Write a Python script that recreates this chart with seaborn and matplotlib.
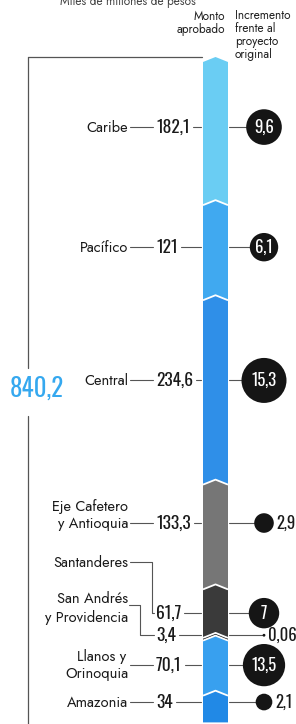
import numpy as np
import pandas as pd
import matplotlib
matplotlib.use("Agg")
import matplotlib.pyplot as plt
import seaborn as sns

# data (miles de millones de pesos)
regions = ["Caribe", "Pacífico", "Central", "Eje Cafetero\ny Antioquia", "Santanderes",
           "San Andrés\ny Providencia", "Llanos y\nOrinoquia", "Amazonia"]
monto = [182.1, 121, 234.6, 133.3, 61.7, 3.4, 70.1, 34]
incremento = [9.6, 6.1, 15.3, 2.9, 7, 0.06, 13.5, 2.1]
total = 840.2
colors = ["#6acdf3", "#40a9f0", "#2f8fe8", "#767676", "#3a3a3a", "#111111", "#38a0ef", "#2189e6"]

# layout (pixels)
W, H, DPI = 296, 724, 100
PX0 = 62          # pixel row where the bar starts
SCALE = 0.786     # pixels per unit
BAR_X0, BAR_X1 = 203, 228
NAME_X, VAL_X, BUB_X = 128, 156, 264
label_nudge = [-6.5, -5.5, -12, -14, -0.5, -4, -3, -7]

NUM_FONT = ["Oswald", "Barlow Condensed", "DejaVu Sans"]
TXT_FONT = ["Jost", "Barlow Semi Condensed", "DejaVu Sans"]


def u(px):
    return px / SCALE


def fmt(v):
    return f"{v:g}".replace(".", ",")


sns.set_theme(style="white")
plt.rcParams["font.family"] = TXT_FONT

fig = plt.figure(figsize=(W / DPI, H / DPI), dpi=DPI)
ax = fig.add_axes([0, 0, 1, 1])

starts = np.concatenate([[0], np.cumsum(monto)[:-1]])
ends = np.cumsum(monto)
mids = (starts + ends) / 2 + np.array([u(n) for n in label_nudge])

# bubbles: area proportional to the increment
k = 68.6
df = pd.DataFrame({"x": [BUB_X] * len(incremento), "y": mids, "inc": incremento})
sns.scatterplot(data=df, x="x", y="y", size="inc",
                sizes=(k * min(incremento), k * max(incremento)),
                size_norm=(min(incremento), max(incremento)),
                color="#151515", linewidth=0, legend=False, ax=ax, zorder=5)
ax.set_xlim(0, W)
ax.set_ylim((H - PX0) / SCALE, -PX0 / SCALE)
ax.axis("off")

# stacked bar with chevron tops
xc = (BAR_X0 + BAR_X1) / 2
p = u(5)
for i, (s, e, c) in enumerate(zip(starts, ends, colors)):
    ax.fill([BAR_X0, xc, BAR_X1, BAR_X1, BAR_X0], [s, s - p, s, e, e],
            color=c, lw=0, zorder=2 + i * 0.1)
    if i > 0:
        ax.plot([BAR_X0, xc, BAR_X1], [s, s - p, s], color="white", lw=1.3,
                zorder=2.05 + i * 0.1, solid_capstyle="butt")

# bracket with total
line_c = "#555555"
ax.plot([28, BAR_X0 - 1], [-p, -p], color=line_c, lw=0.9)
ax.plot([28, 28], [-p, total / 2 - u(24)], color=line_c, lw=0.9)
ax.plot([28, 28], [total / 2 + u(24), (H - PX0) / SCALE], color=line_c, lw=0.9)
ax.text(37, total / 2 - u(4), "840,2", color="#35a8ef", fontsize=18, ha="center",
        va="center", family=NUM_FONT)

# headers
fig.text(225 / W, 1 - 23 / H, "Monto\naprobado", ha="right", va="center",
         fontsize=8.5, color="#222222", linespacing=1.0, weight="medium")
fig.text(235 / W, 1 - 35 / H, "Incremento\nfrente al\nproyecto\noriginal", ha="left",
         va="center", fontsize=8.5, color="#222222", linespacing=1.0, weight="medium")
fig.text(60 / W, 1 - 1 / H, "Miles de millones de pesos", ha="left", va="center",
         fontsize=8.5, color="#444444", weight="medium")

renderer = fig.canvas.get_renderer()
inv = ax.transData.inverted()
txt_c = "#1a1a1a"
lw = 0.8
fs_name = 10.5

for i, (name, v, y) in enumerate(zip(regions, monto, mids)):
    t = ax.text(VAL_X, y, fmt(v), ha="left", va="center", fontsize=12.5, color=txt_c,
                family=NUM_FONT, weight="medium")
    bb = t.get_window_extent(renderer)
    x_right = inv.transform((bb.x1, bb.y0))[0]
    ax.plot([x_right + 3, BAR_X0 - 2], [y, y], color=line_c, lw=lw)
    ax.plot([BAR_X1 + 1, BUB_X], [y, y], color=line_c, lw=lw, zorder=1)

    lines = name.split("\n")
    if name == "Santanderes":
        yn = y - u(51)
        ax.text(NAME_X, yn, name, ha="right", va="center", fontsize=fs_name, color=txt_c)
        ax.plot([NAME_X + 2, 152, 152, VAL_X - 2], [yn, yn, y, y], color=line_c, lw=lw)
    elif name.startswith("San Andrés"):
        ax.text(NAME_X, y - u(37), lines[0], ha="right", va="center", fontsize=fs_name, color=txt_c)
        ax.text(NAME_X, y - u(18), lines[1], ha="right", va="center", fontsize=fs_name, color=txt_c)
        yc = y - u(30)
        ax.plot([NAME_X + 1, 140, 140, VAL_X - 2], [yc, yc, y, y], color=line_c, lw=lw)
    elif len(lines) == 2 and name.startswith("Eje"):
        ax.text(NAME_X, y - u(17), lines[0], ha="right", va="center", fontsize=fs_name, color=txt_c)
        ax.text(NAME_X, y, lines[1], ha="right", va="center", fontsize=fs_name, color=txt_c)
        ax.plot([NAME_X + 2, VAL_X - 3], [y, y], color=line_c, lw=lw)
    elif len(lines) == 2:
        ax.text(NAME_X - 2, y - u(9), lines[0], ha="right", va="center", fontsize=fs_name, color=txt_c)
        ax.text(NAME_X, y + u(8), lines[1], ha="right", va="center", fontsize=fs_name, color=txt_c)
        ax.plot([NAME_X + 2, VAL_X - 3], [y, y], color=line_c, lw=lw)
    else:
        ax.text(NAME_X, y, name, ha="right", va="center", fontsize=fs_name, color=txt_c)
        ax.plot([NAME_X + 2, VAL_X - 3], [y, y], color=line_c, lw=lw)

for inc, y in zip(incremento, mids):
    r_px = np.sqrt(k * inc) / 2 / 0.72
    if inc >= 5:
        ax.text(BUB_X, y, fmt(inc), ha="center", va="center", fontsize=12,
                color="white", zorder=6, family=NUM_FONT, weight="medium")
    else:
        ax.text(BUB_X + r_px + 3, y, fmt(inc), ha="left", va="center", fontsize=12,
                color=txt_c, zorder=6, family=NUM_FONT, weight="medium")

fig.savefig("out.png", dpi=DPI)
